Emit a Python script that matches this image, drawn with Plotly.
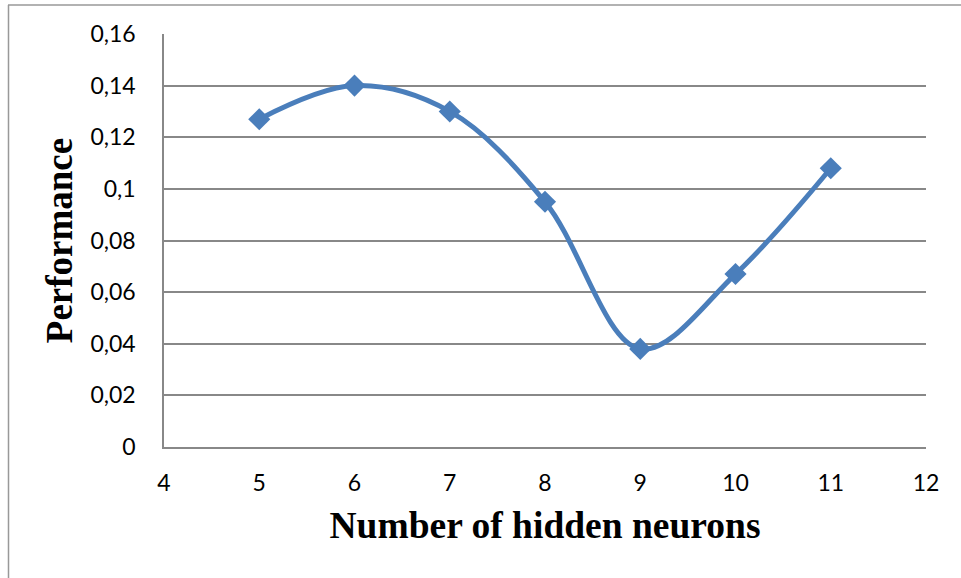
import plotly.graph_objects as go

neurons = [5, 6, 7, 8, 9, 10, 11]
performance = [0.127, 0.140, 0.130, 0.095, 0.038, 0.067, 0.108]
x_ticks = [4, 5, 6, 7, 8, 9, 10, 11, 12]
y_ticks = [0, 0.02, 0.04, 0.06, 0.08, 0.10, 0.12, 0.14, 0.16]
y_tick_labels = ["0", "0,02", "0,04", "0,06", "0,08", "0,1", "0,12", "0,14", "0,16"]

W, H = 961, 578
L, R, T, B = 164, 35, 34, 131
pw, ph = W - L - R, H - T - B

def px(xp):
    return (xp - L) / pw

def py(yp):
    return (H - B - yp) / ph

blue = "#4A7EBB"
grid = "#888888"

fig = go.Figure()
fig.add_trace(go.Scatter(
    x=neurons, y=performance, mode="lines+markers",
    line=dict(color=blue, width=5, shape="spline", smoothing=1),
    marker=dict(symbol="diamond", size=17, color=blue, line=dict(width=0)),
    showlegend=False, cliponaxis=False,
))

fig.update_layout(
    width=W, height=H,
    margin=dict(l=L, r=R, t=T, b=B),
    paper_bgcolor="white", plot_bgcolor="white",
    font=dict(family="Lato", size=23, color="#000000"),
    xaxis=dict(
        range=[4, 12], tickvals=x_ticks, ticktext=[str(v) for v in x_ticks],
        showgrid=False, zeroline=False, showline=True, linecolor=grid, linewidth=1.5,
        ticks="", ticklabelstandoff=15, tickfont=dict(family="Lato", size=23),
        title=dict(text="<b>Number of hidden neurons</b>",
                   font=dict(family="Liberation Serif", size=37.5), standoff=16),
    ),
    yaxis=dict(
        range=[0, 0.16], tickvals=y_ticks, ticktext=y_tick_labels,
        showgrid=True, gridcolor=grid, gridwidth=1.5,
        zeroline=False, showline=True, linecolor=grid, linewidth=1.5,
        ticks="", ticklabelstandoff=22, tickfont=dict(family="Lato", size=23),
        title=dict(text="<b>Performance</b>",
                   font=dict(family="Liberation Serif", size=37), standoff=6),
    ),
    shapes=[
        dict(type="line", xref="paper", yref="paper", x0=px(8.5), x1=px(8.5),
             y0=py(5), y1=py(578), line=dict(color="#999999", width=1.5)),
        dict(type="line", xref="paper", yref="paper", x0=px(8), x1=px(961),
             y0=py(5), y1=py(5), line=dict(color="#999999", width=1.5)),
    ],
)

fig.write_html("out.html")
